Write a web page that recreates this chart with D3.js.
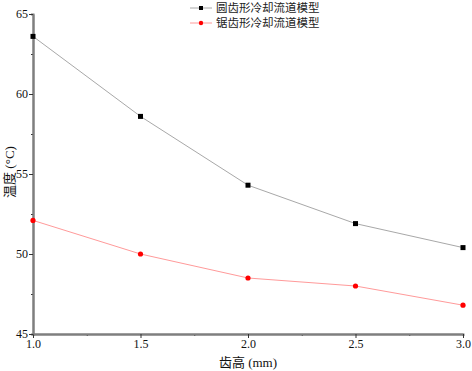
<!DOCTYPE html>
<html>
<head>
<meta charset="utf-8">
<script src="https://cdn.jsdelivr.net/npm/d3@7"></script>
<style>
  body { margin: 0; background: #fff; }
  text { font-family: "Liberation Serif", "Noto Sans CJK SC", serif; }
</style>
</head>
<body>
<script>
// data
var heights = [1.0, 1.5, 2.0, 2.5, 3.0];
var roundTemps = [63.6, 58.6, 54.3, 51.9, 50.4];
var sawTemps = [52.1, 50.0, 48.5, 48.0, 46.8];
var seriesNames = ["圆齿形冷却流道模型", "锯齿形冷却流道模型"];
var xTicks = [1.0, 1.5, 2.0, 2.5, 3.0];
var yTicks = [45, 50, 55, 60, 65];

var w = 472, h = 371;
var margin = {top: 14, right: 9, bottom: 37, left: 33};

var svg = d3.select('body').append('svg')
    .attr('width', w)
    .attr('height', h);

var xScale = d3.scaleLinear().domain([1, 3]).range([margin.left, w - margin.right]);
var yScale = d3.scaleLinear().domain([45, 65]).range([h - margin.bottom, margin.top]);

var axisColor = '#7f7f7f';

// minor ticks
var xAxisMinor = d3.axisBottom(xScale).tickValues([1.25, 1.75, 2.25, 2.75]).tickSize(2).tickFormat('');
var yAxisMinor = d3.axisLeft(yScale).tickValues([47.5, 52.5, 57.5, 62.5]).tickSize(2).tickFormat('');

var xAxis = d3.axisBottom(xScale).tickValues(xTicks).tickSize(4).tickSizeOuter(0).tickFormat(d3.format('.1f'));
var yAxis = d3.axisLeft(yScale).tickValues(yTicks).tickSize(4).tickSizeOuter(0).tickFormat(d3.format('d'));

function styleAxis(g) {
  g.select('.domain').attr('stroke', axisColor).attr('stroke-width', 2);
  g.selectAll('.tick line').attr('stroke', '#333');
  g.selectAll('.tick text').attr('fill', '#111').style('font-size', '12px')
    .style('font-family', '"Liberation Serif", serif');
}

svg.append('g').attr('transform', 'translate(0,' + (h - margin.bottom) + ')').call(xAxisMinor).call(styleAxis);
svg.append('g').attr('transform', 'translate(' + margin.left + ',0)').call(yAxisMinor).call(styleAxis);
svg.append('g').attr('transform', 'translate(0,' + (h - margin.bottom) + ')').call(xAxis).call(styleAxis)
  .selectAll('.tick text').attr('y', 5);
svg.append('g').attr('transform', 'translate(' + margin.left + ',0)').call(yAxis).call(styleAxis)
  .selectAll('.tick text').attr('x', -5);

// lines
var line = d3.line()
  .x(function(d, i) { return xScale(heights[i]); })
  .y(function(d) { return yScale(d); });

svg.append('path').datum(roundTemps)
  .attr('d', line).attr('fill', 'none').attr('stroke', '#a8a8a8').attr('stroke-width', 1);
svg.append('path').datum(sawTemps)
  .attr('d', line).attr('fill', 'none').attr('stroke', '#ff9a9a').attr('stroke-width', 1);

svg.selectAll('.sq').data(roundTemps).enter().append('rect')
  .attr('x', function(d, i) { return xScale(heights[i]) - 2.5; })
  .attr('y', function(d) { return yScale(d) - 2.5; })
  .attr('width', 5).attr('height', 5).attr('fill', '#000');

svg.selectAll('.dot').data(sawTemps).enter().append('circle')
  .attr('cx', function(d, i) { return xScale(heights[i]); })
  .attr('cy', function(d) { return yScale(d); })
  .attr('r', 2.6).attr('fill', '#ff0000');

// legend
var legend = svg.append('g').attr('transform', 'translate(190,0)');
[0, 1].forEach(function(i) {
  var y = 8 + i * 15;
  legend.append('line').attr('x1', 0).attr('x2', 22).attr('y1', y).attr('y2', y)
    .attr('stroke', i === 0 ? '#a8a8a8' : '#ff9a9a').attr('stroke-width', 1);
  if (i === 0) {
    legend.append('rect').attr('x', 9).attr('y', y - 2).attr('width', 4).attr('height', 4).attr('fill', '#000');
  } else {
    legend.append('circle').attr('cx', 11).attr('cy', y).attr('r', 2.2).attr('fill', '#ff0000');
  }
  legend.append('text').attr('x', 26).attr('y', y + 4)
    .style('font-size', '11.5px').style('font-family', '"Noto Sans CJK SC", serif')
    .attr('fill', '#222').text(seriesNames[i]);
});

// axis titles
svg.append('text')
  .attr('x', (margin.left + w - margin.right) / 2).attr('y', 367)
  .attr('text-anchor', 'middle').style('font-size', '13px').attr('fill', '#111')
  .text('齿高 (mm)');

svg.append('text')
  .attr('transform', 'translate(14,' + 172 + ') rotate(-90)')
  .attr('text-anchor', 'middle').style('font-size', '13px').attr('fill', '#111')
  .text('温度 (°C)');
</script>
</body>
</html>
